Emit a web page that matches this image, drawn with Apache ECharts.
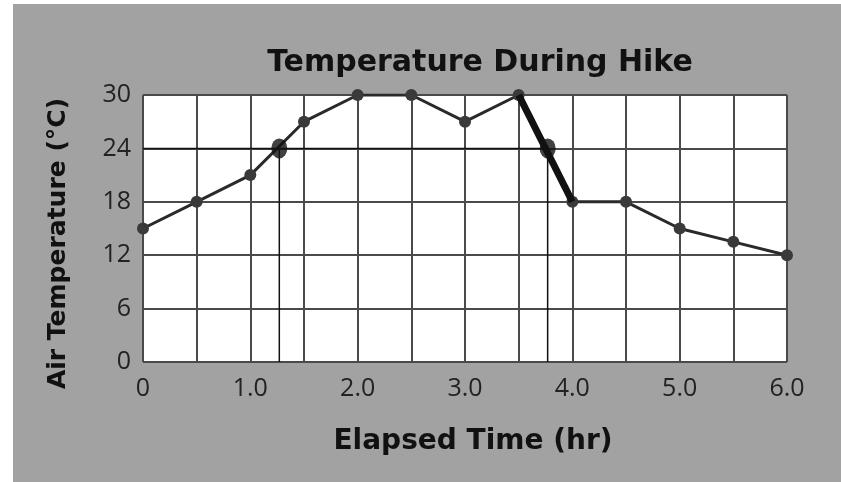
<!DOCTYPE html>
<html>
<head>
<meta charset="utf-8">
<title>Temperature During Hike</title>
<script src="https://cdn.jsdelivr.net/npm/echarts@6/dist/echarts.min.js"></script>
<style>
  html, body { margin: 0; padding: 0; background: #fff; }
  #wrap { position: absolute; left: 13px; top: 4px; width: 828px; height: 478px; background: #a2a2a2; }
  #chart { width: 828px; height: 478px; }
</style>
</head>
<body>
<div id="wrap"><div id="chart"></div></div>
<script>
// elapsed time (hr) and air temperature (°C)
var times = [0, 0.5, 1.0, 1.5, 2.0, 2.5, 3.0, 3.5, 4.0, 4.5, 5.0, 5.5, 6.0];
var temps = [15, 18, 21, 27, 30, 30, 27, 30, 18, 18, 15, 13.5, 12];

// x tick labels, one per 0.5 hr grid line
var xTickLabels = ["0", "", "1.0", "", "2.0", "", "3.0", "", "4.0", "", "5.0", "", "6.0"];
var yTicks = [0, 6, 12, 18, 24, 30];

// pencil marks drawn on the sheet: reading at 24 °C
var readTemp = 24;
var readTimes = [1.27, 3.77];
// segment traced over by hand
var tracedTimes = [3.5, 4.0];
var tracedTemps = [30, 18];

var lineData = times.map(function (t, i) { return [t, temps[i]]; });
var pencil = "#111";
var boldFont = "DejaVu Sans";

var chart = echarts.init(document.getElementById("chart"));
chart.setOption({
    animation: false,
    title: {
        text: "Temperature During Hike",
        left: 462,
        top: 39,
        textAlign: "center",
        textStyle: { fontFamily: boldFont, fontWeight: "bold", fontSize: 30, color: "#111" }
    },
    grid: {
        show: true,
        left: 130,
        top: 91,
        right: 54,
        bottom: 120,
        backgroundColor: "#fff",
        borderWidth: 0
    },
    xAxis: {
        type: "value",
        min: 0,
        max: 6,
        interval: 0.5,
        name: "Elapsed Time (hr)",
        nameLocation: "middle",
        nameGap: 66,
        nameTextStyle: { fontFamily: boldFont, fontWeight: "bold", fontSize: 28, color: "#111", padding: [0, 0, 0, 16] },
        axisLine: { show: false },
        axisTick: { show: false },
        axisLabel: {
            margin: 14,
            fontFamily: "Open Sans",
            fontSize: 25,
            color: "#222",
            formatter: function (v) { return xTickLabels[Math.round(v / 0.5)]; }
        },
        splitLine: { lineStyle: { color: "#4a4a4a", width: 2 } }
    },
    yAxis: {
        type: "value",
        min: 0,
        max: 30,
        interval: 6,
        name: "Air Temperature (°C)",
        nameLocation: "middle",
        nameGap: 72,
        nameTextStyle: { fontFamily: boldFont, fontWeight: "bold", fontSize: 25, color: "#111", padding: [0, 30, 0, 0] },
        axisLine: { show: false },
        axisTick: { show: false },
        axisLabel: {
            margin: 12,
            fontFamily: "Open Sans",
            fontSize: 25,
            color: "#222",
            formatter: function (v) { return yTicks.indexOf(v) >= 0 ? String(v) : ""; }
        },
        splitLine: { lineStyle: { color: "#4a4a4a", width: 2 } }
    },
    series: [
        {
            name: "Temperature",
            type: "line",
            data: lineData,
            symbol: "circle",
            symbolSize: 12,
            itemStyle: { color: "#3a3a3a" },
            lineStyle: { color: "#2a2a2a", width: 3 },
            z: 3
        },
        {
            name: "traced",
            type: "line",
            data: tracedTimes.map(function (t, i) { return [t, tracedTemps[i]]; }),
            symbol: "none",
            lineStyle: { color: pencil, width: 7 },
            z: 4
        },
        {
            name: "reading",
            type: "line",
            data: [[0, readTemp], [readTimes[1], readTemp]],
            symbol: "none",
            lineStyle: { color: pencil, width: 1.5 },
            z: 4
        },
        {
            name: "drop1",
            type: "line",
            data: [[readTimes[0], readTemp], [readTimes[0], 0]],
            symbol: "none",
            lineStyle: { color: pencil, width: 1.5 },
            z: 4
        },
        {
            name: "drop2",
            type: "line",
            data: [[readTimes[1], readTemp], [readTimes[1], 0]],
            symbol: "none",
            lineStyle: { color: pencil, width: 1.5 },
            z: 4
        },
        {
            name: "marks",
            type: "scatter",
            data: readTimes.map(function (t) { return [t, readTemp]; }),
            symbol: "circle",
            symbolSize: [16, 20],
            itemStyle: { color: pencil },
            z: 5
        }
    ]
});
</script>
</body>
</html>
